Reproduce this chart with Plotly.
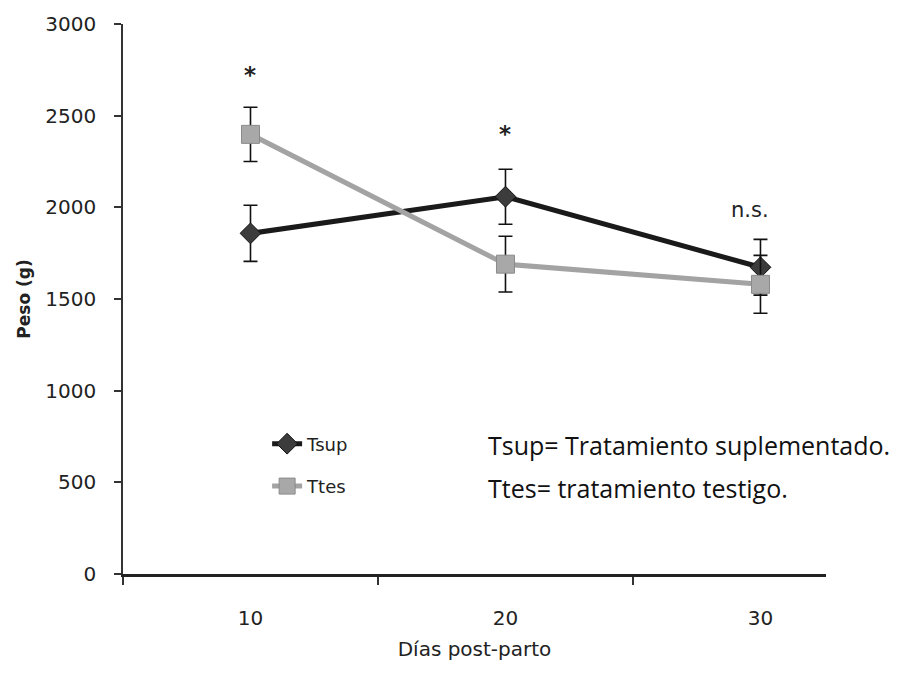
import plotly.graph_objects as go

days = ["10", "20", "30"]
tsup = [1858, 2058, 1673]
tsup_err = [153, 150, 152]
ttes = [2398, 1690, 1580]
ttes_err = [148, 152, 158]
sig_labels = ["*", "*", "n.s."]
sig_y = [2640, 2320, 1985]
y_ticks = [0, 500, 1000, 1500, 2000, 2500, 3000]

tick_font = "DejaVu Sans"
note_font = "Open Sans"

fig = go.Figure()
fig.add_trace(go.Scatter(
    x=days, y=tsup, name="Tsup", mode="lines+markers",
    line=dict(color="#1a1a1a", width=5),
    marker=dict(symbol="diamond", size=16, color="#3c3c3c", line=dict(color="#111", width=1)),
    error_y=dict(type="data", array=tsup_err, color="#111", thickness=1.6, width=7),
    legendgroup="a",
))
fig.add_trace(go.Scatter(
    x=days, y=ttes, name="Ttes", mode="lines+markers",
    line=dict(color="#a3a3a3", width=5),
    marker=dict(symbol="square", size=18, color="#a8a8a8", line=dict(color="#8a8a8a", width=1)),
    error_y=dict(type="data", array=ttes_err, color="#111", thickness=1.6, width=7),
    legendgroup="b",
))

for i, (lab, yy) in enumerate(zip(sig_labels, sig_y)):
    if lab == "*":
        fig.add_annotation(x=i, y=yy, text="<b>*</b>", showarrow=False, yanchor="bottom",
                           font=dict(family=tick_font, size=23, color="#222"))
    else:
        fig.add_annotation(x=i, y=yy, text=lab, showarrow=False, xshift=-10,
                           font=dict(family=tick_font, size=21, color="#222"))

fig.add_annotation(xref="paper", yref="paper", x=0.516, y=0.234, xanchor="left", yanchor="middle",
                   text="Tsup= Tratamiento suplementado.", showarrow=False,
                   font=dict(family=note_font, size=25, color="#111"))
fig.add_annotation(xref="paper", yref="paper", x=0.516, y=0.156, xanchor="left", yanchor="middle",
                   text="Ttes= tratamiento testigo.", showarrow=False,
                   font=dict(family=note_font, size=25, color="#111"))

fig.update_layout(
    width=911, height=688,
    margin=dict(l=123, r=85, t=22, b=114),
    paper_bgcolor="white", plot_bgcolor="white",
    showlegend=True,
    legend=dict(x=0.205, y=0.27, xanchor="left", yanchor="top",
                font=dict(family=tick_font, size=18, color="#222"),
                tracegroupgap=16, itemwidth=30, bgcolor="rgba(0,0,0,0)"),
    xaxis=dict(type="category", range=[-0.5, 2.257], tickson="boundaries",
               showline=True, linecolor="#222", linewidth=2.5,
               ticks="outside", ticklen=8, tickcolor="#333", tickwidth=1.5,
               ticklabelstandoff=24,
               showgrid=False, zeroline=False,
               tickfont=dict(family=tick_font, size=20, color="#222"),
               title=dict(text="Días post-parto", standoff=14,
                          font=dict(family=tick_font, size=20, color="#222"))),
    yaxis=dict(range=[0, 3000], tickvals=y_ticks,
               showline=True, linecolor="#333", linewidth=1.5,
               ticks="outside", ticklen=7, tickcolor="#333", tickwidth=1.5,
               ticklabelstandoff=14,
               showgrid=False, zeroline=False,
               tickfont=dict(family=tick_font, size=20, color="#222"),
               title=dict(text="<b>Peso (g)</b>", standoff=10,
                          font=dict(family=tick_font, size=17, color="#222"))),
)

fig.write_html("out.html")
